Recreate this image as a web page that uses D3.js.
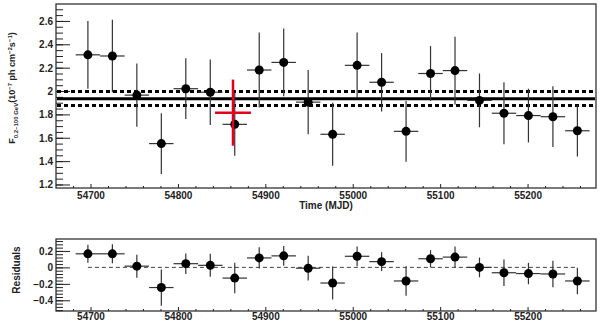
<!DOCTYPE html>
<html>
<head>
<meta charset="utf-8">
<script src="https://cdn.jsdelivr.net/npm/d3@7/dist/d3.min.js"></script>
<style>
body { margin:0; background:#fff; }
svg text { font-family: "Liberation Sans", Arial, Helvetica, sans-serif; font-weight: bold; fill:#222; }
</style>
</head>
<body>
<svg id="chart" width="600" height="322"></svg>
<script>
// light curve bins (MJD centre), 28 day bins
var mjd = [54697, 54725, 54753, 54781, 54809, 54837, 54865, 54893, 54921, 54949, 54977,
           55005, 55033, 55061, 55089, 55117, 55145, 55173, 55201, 55229, 55257];
var binHalf = 14;
var flux = [2.31, 2.30, 1.965, 1.55, 2.02, 1.99, 1.715, 2.18, 2.245, 1.905, 1.63,
            2.22, 2.075, 1.655, 2.15, 2.175, 1.92, 1.81, 1.79, 1.78, 1.66];
var fluxErr = [0.29, 0.31, 0.27, 0.26, 0.26, 0.28, 0.27, 0.32, 0.29, 0.275, 0.27,
               0.28, 0.25, 0.26, 0.235, 0.29, 0.23, 0.265, 0.23, 0.26, 0.22];
var resid = [0.165, 0.165, 0.015, -0.245, 0.045, 0.025, -0.13, 0.115, 0.14, -0.01, -0.19,
             0.135, 0.07, -0.165, 0.105, 0.125, 0.0, -0.065, -0.075, -0.08, -0.165];
var residErr = [0.11, 0.115, 0.14, 0.22, 0.125, 0.14, 0.185, 0.13, 0.12, 0.15, 0.2,
                0.12, 0.115, 0.18, 0.105, 0.13, 0.12, 0.16, 0.13, 0.16, 0.16];

// constant fit + 1 sigma band
var meanFlux = 1.935;
var meanLo = 1.877;
var meanHi = 1.995;

// the red (flare) point
var redPoint = {mjd: 54863, half: 20.5, flux: 1.815, err: 0.283};

var xTicks = [54700, 54800, 54900, 55000, 55100, 55200];
var yTopTicks = [1.2, 1.4, 1.6, 1.8, 2, 2.2, 2.4, 2.6];
var yBotTicks = [-0.4, -0.2, 0, 0.2];

var svg = d3.select("#chart");

var left = 56, right = 596;
var top1 = 4, bot1 = 188;
var top2 = 239, bot2 = 311;
var labelSize = "10px";

var x = d3.scaleLinear().domain([54660.5, 55278.3]).range([left, right]);
var yTop = d3.scaleLinear().domain([1.17, 2.745]).range([bot1, top1]);
var yBot = d3.scaleLinear().domain([-0.53, 0.345]).range([bot2, top2]);

var data = mjd.map(function(d, i) {
	return {mjd: d, flux: flux[i], err: fluxErr[i], res: resid[i], rerr: residErr[i]};
});

function fmt(d) { return d3.format("")(+d.toFixed(2)); }

// axes + frame for a panel
function drawAxes(yScale, yT, yMinorStep, yTop_, yBot_, xPad) {
	var xMinor = d3.range(54680, 55280, 20).filter(function(v){ return v % 100 != 0; });
	var lo = Math.ceil(yScale.domain()[0] / yMinorStep - 1e-6);
	var hi = Math.floor(yScale.domain()[1] / yMinorStep + 1e-6);
	var yMinor = d3.range(lo, hi + 1).map(function(k){ return +(k * yMinorStep).toFixed(3); });

	svg.append("g")
		.attr("transform", "translate(" + left + ",0)")
		.call(d3.axisLeft(yScale).tickValues(yMinor).tickSize(-7).tickFormat(""))
		.call(function(g){ g.select(".domain").remove(); g.selectAll("line").attr("stroke", "#222"); });

	svg.append("g")
		.attr("transform", "translate(" + left + ",0)")
		.call(d3.axisLeft(yScale).tickValues(yT).tickSizeInner(-14).tickSizeOuter(0).tickPadding(3).tickFormat(fmt))
		.call(function(g){
			g.select(".domain").remove();
			g.selectAll("line").attr("stroke", "#222");
			g.selectAll("text").style("font-size", labelSize).attr("dy", "0.35em");
		});

	svg.append("g")
		.attr("transform", "translate(0," + yBot_ + ")")
		.call(d3.axisBottom(x).tickValues(xMinor).tickSize(-2).tickFormat(""))
		.call(function(g){ g.select(".domain").remove(); g.selectAll("line").attr("stroke", "#222"); });

	svg.append("g")
		.attr("transform", "translate(0," + yBot_ + ")")
		.call(d3.axisBottom(x).tickValues(xTicks).tickSizeInner(-4).tickSizeOuter(0).tickPadding(xPad).tickFormat(d3.format("")))
		.call(function(g){
			g.select(".domain").remove();
			g.selectAll("line").attr("stroke", "#222");
			g.selectAll("text").style("font-size", labelSize);
		});

	svg.append("rect")
		.attr("x", left).attr("y", yTop_)
		.attr("width", right - left).attr("height", yBot_ - yTop_)
		.attr("fill", "none").attr("stroke", "#222").attr("stroke-width", 1.2);
}

// points with error bars
function drawPoints(yScale, val, err) {
	var g = svg.append("g");
	g.selectAll("line.ey").data(data).enter().append("line")
		.attr("class", "ey")
		.attr("x1", function(d){ return x(d.mjd); })
		.attr("x2", function(d){ return x(d.mjd); })
		.attr("y1", function(d){ return yScale(d[val] - d[err]); })
		.attr("y2", function(d){ return yScale(d[val] + d[err]); })
		.attr("stroke", "#333").attr("stroke-width", 1.2);
	g.selectAll("line.ex").data(data).enter().append("line")
		.attr("class", "ex")
		.attr("x1", function(d){ return x(d.mjd - binHalf); })
		.attr("x2", function(d){ return x(d.mjd + binHalf); })
		.attr("y1", function(d){ return yScale(d[val]); })
		.attr("y2", function(d){ return yScale(d[val]); })
		.attr("stroke", "#333").attr("stroke-width", 1.2);
	g.selectAll("circle").data(data).enter().append("circle")
		.attr("cx", function(d){ return x(d.mjd); })
		.attr("cy", function(d){ return yScale(d[val]); })
		.attr("r", 4.5).attr("fill", "#000");
}

// ---- top panel ----
drawAxes(yTop, yTopTicks, 0.05, top1, bot1, 3.5);

svg.append("line")
	.attr("x1", left + 1).attr("x2", right - 1)
	.attr("y1", yTop(meanFlux)).attr("y2", yTop(meanFlux))
	.attr("stroke", "#000").attr("stroke-width", 3);

[meanLo, meanHi].forEach(function(v) {
	svg.append("line")
		.attr("x1", left + 1).attr("x2", right - 1)
		.attr("y1", yTop(v)).attr("y2", yTop(v))
		.attr("stroke", "#000").attr("stroke-width", 3)
		.attr("stroke-dasharray", "4,3");
});

drawPoints(yTop, "flux", "err");

// red cross
svg.append("line")
	.attr("x1", x(redPoint.mjd)).attr("x2", x(redPoint.mjd))
	.attr("y1", yTop(redPoint.flux - redPoint.err)).attr("y2", yTop(redPoint.flux + redPoint.err))
	.attr("stroke", "#e3001b").attr("stroke-width", 2.5);
svg.append("line")
	.attr("x1", x(redPoint.mjd - redPoint.half)).attr("x2", x(redPoint.mjd + redPoint.half))
	.attr("y1", yTop(redPoint.flux)).attr("y2", yTop(redPoint.flux))
	.attr("stroke", "#e3001b").attr("stroke-width", 2.5);

svg.append("text")
	.attr("x", 326).attr("y", 209)
	.attr("text-anchor", "middle")
	.style("font-size", labelSize)
	.text("Time (MJD)");

// y title with sub/superscripts
var yt = svg.append("text")
	.attr("transform", "translate(15,88) rotate(-90)")
	.attr("text-anchor", "middle")
	.style("font-size", "9px");
yt.append("tspan").text("F");
yt.append("tspan").attr("dy", 2.5).style("font-size", "6px").text("0.2\u2013100 GeV");
yt.append("tspan").attr("dy", -2.5).text("(10");
yt.append("tspan").attr("dy", -3.5).style("font-size", "6px").text("\u22127");
yt.append("tspan").attr("dy", 3.5).text(" ph cm");
yt.append("tspan").attr("dy", -3.5).style("font-size", "6px").text("\u22122");
yt.append("tspan").attr("dy", 3.5).text("s");
yt.append("tspan").attr("dy", -3.5).style("font-size", "6px").text("\u22121");
yt.append("tspan").attr("dy", 3.5).text(")");

// ---- residual panel ----
drawAxes(yBot, yBotTicks, 0.04, top2, bot2, 1.8);

svg.append("line")
	.attr("x1", x(mjd[0])).attr("x2", x(mjd[mjd.length - 1]))
	.attr("y1", yBot(0)).attr("y2", yBot(0))
	.attr("stroke", "#444").attr("stroke-width", 1)
	.attr("stroke-dasharray", "4,3");

drawPoints(yBot, "res", "rerr");

svg.append("text")
	.attr("transform", "translate(19.5,270) rotate(-90)")
	.attr("text-anchor", "middle")
	.style("font-size", labelSize)
	.text("Residuals");
</script>
</body>
</html>
